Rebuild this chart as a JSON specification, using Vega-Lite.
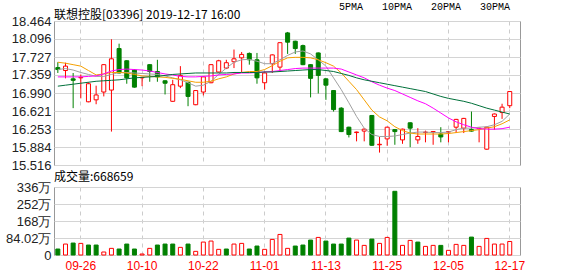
{
"$schema": "https://vega.github.io/schema/vega-lite/v6.json",
"background": "white",
"padding": {"left": 4, "top": 2, "right": 5, "bottom": 2},
"title": {"text": "联想控股[03396] 2019-12-17 16:00", "anchor": "start", "frame": "group", "fontSize": 12, "fontWeight": "normal", "font": "Noto Sans CJK SC", "color": "#000", "offset": -20},
"config": {
  "view": {"stroke": "#999", "strokeWidth": 1},
  "axis": {"labelFont": "Liberation Sans", "labelFontSize": 13, "labelColor": "#222", "ticks": false, "domain": false, "title": null, "labelOverlap": false},
  "legend": {"labelFont": "Liberation Mono", "labelFontSize": 10, "labelColor": "#000"}
},
"data": {"values": [
{"d":"09-23","o":17.51,"h":17.62,"l":17.40,"c":17.47,"v":295000,"ma5":17.47,"ma10":17.62,"ma20":17.32,"ma30":17.13},
{"d":"09-24","o":17.45,"h":17.61,"l":17.29,"c":17.54,"v":541000,"ma5":17.49,"ma10":17.60,"ma20":17.32,"ma30":17.15},
{"d":"09-25","o":17.28,"h":17.40,"l":16.68,"c":17.25,"v":590000,"ma5":17.46,"ma10":17.57,"ma20":17.32,"ma30":17.17},
{"d":"09-26","o":17.30,"h":17.37,"l":16.88,"c":17.31,"v":574000,"ma5":17.41,"ma10":17.54,"ma20":17.32,"ma30":17.19},
{"d":"09-27","o":16.81,"h":17.21,"l":16.80,"c":17.18,"v":492000,"ma5":17.37,"ma10":17.45,"ma20":17.33,"ma30":17.21},
{"d":"09-30","o":16.85,"h":17.14,"l":16.76,"c":16.95,"v":492000,"ma5":17.33,"ma10":17.36,"ma20":17.34,"ma30":17.23},
{"d":"10-02","o":17.01,"h":17.58,"l":16.92,"c":17.57,"v":148000,"ma5":17.33,"ma10":17.38,"ma20":17.38,"ma30":17.24},
{"d":"10-03","o":17.05,"h":18.09,"l":16.20,"c":17.69,"v":328000,"ma5":17.37,"ma10":17.41,"ma20":17.44,"ma30":17.25},
{"d":"10-04","o":17.90,"h":18.00,"l":17.39,"c":17.40,"v":295000,"ma5":17.41,"ma10":17.41,"ma20":17.47,"ma30":17.26},
{"d":"10-08","o":17.65,"h":17.66,"l":17.18,"c":17.30,"v":541000,"ma5":17.41,"ma10":17.40,"ma20":17.48,"ma30":17.28},
{"d":"10-09","o":17.46,"h":17.47,"l":17.10,"c":17.11,"v":295000,"ma5":17.40,"ma10":17.37,"ma20":17.47,"ma30":17.30},
{"d":"10-10","o":17.30,"h":17.32,"l":17.13,"c":17.31,"v":49000,"ma5":17.39,"ma10":17.34,"ma20":17.46,"ma30":17.31},
{"d":"10-11","o":17.57,"h":17.58,"l":17.22,"c":17.43,"v":328000,"ma5":17.38,"ma10":17.33,"ma20":17.44,"ma30":17.32},
{"d":"10-14","o":17.43,"h":17.67,"l":17.22,"c":17.32,"v":492000,"ma5":17.37,"ma10":17.32,"ma20":17.41,"ma30":17.33},
{"d":"10-15","o":17.24,"h":17.25,"l":16.96,"c":17.19,"v":541000,"ma5":17.34,"ma10":17.31,"ma20":17.38,"ma30":17.35},
{"d":"10-16","o":16.82,"h":17.26,"l":16.81,"c":17.16,"v":541000,"ma5":17.30,"ma10":17.29,"ma20":17.36,"ma30":17.37},
{"d":"10-17","o":17.13,"h":17.54,"l":17.09,"c":17.35,"v":377000,"ma5":17.26,"ma10":17.27,"ma20":17.33,"ma30":17.38},
{"d":"10-18","o":17.21,"h":17.22,"l":16.72,"c":16.92,"v":541000,"ma5":17.20,"ma10":17.24,"ma20":17.32,"ma30":17.39},
{"d":"10-21","o":16.75,"h":17.05,"l":16.74,"c":17.04,"v":180000,"ma5":17.13,"ma10":17.21,"ma20":17.32,"ma30":17.40},
{"d":"10-22","o":17.01,"h":17.33,"l":16.94,"c":17.32,"v":639000,"ma5":17.15,"ma10":17.21,"ma20":17.33,"ma30":17.40},
{"d":"10-23","o":17.20,"h":17.58,"l":17.19,"c":17.57,"v":689000,"ma5":17.23,"ma10":17.23,"ma20":17.34,"ma30":17.40},
{"d":"10-24","o":17.42,"h":17.67,"l":17.41,"c":17.65,"v":279000,"ma5":17.37,"ma10":17.28,"ma20":17.36,"ma30":17.40},
{"d":"10-25","o":17.50,"h":17.67,"l":17.48,"c":17.61,"v":295000,"ma5":17.50,"ma10":17.32,"ma20":17.37,"ma30":17.40},
{"d":"10-28","o":17.63,"h":17.88,"l":17.50,"c":17.69,"v":541000,"ma5":17.62,"ma10":17.38,"ma20":17.38,"ma30":17.41},
{"d":"10-29","o":17.71,"h":17.83,"l":17.42,"c":17.78,"v":574000,"ma5":17.67,"ma10":17.41,"ma20":17.40,"ma30":17.41},
{"d":"10-30","o":17.80,"h":17.82,"l":17.57,"c":17.67,"v":295000,"ma5":17.68,"ma10":17.43,"ma20":17.40,"ma30":17.41},
{"d":"10-31","o":17.67,"h":17.81,"l":17.18,"c":17.30,"v":443000,"ma5":17.64,"ma10":17.43,"ma20":17.41,"ma30":17.41},
{"d":"11-01","o":17.20,"h":17.43,"l":17.06,"c":17.40,"v":279000,"ma5":17.59,"ma10":17.47,"ma20":17.42,"ma30":17.42},
{"d":"11-04","o":17.59,"h":17.78,"l":17.40,"c":17.77,"v":770000,"ma5":17.59,"ma10":17.55,"ma20":17.43,"ma30":17.42},
{"d":"11-05","o":17.52,"h":18.03,"l":17.42,"c":18.02,"v":1016000,"ma5":17.67,"ma10":17.64,"ma20":17.45,"ma30":17.43},
{"d":"11-06","o":18.22,"h":18.24,"l":17.79,"c":18.03,"v":328000,"ma5":17.76,"ma10":17.71,"ma20":17.47,"ma30":17.44},
{"d":"11-07","o":18.05,"h":18.06,"l":17.79,"c":17.90,"v":443000,"ma5":17.83,"ma10":17.72,"ma20":17.49,"ma30":17.45},
{"d":"11-08","o":17.96,"h":17.98,"l":17.56,"c":17.57,"v":492000,"ma5":17.85,"ma10":17.72,"ma20":17.50,"ma30":17.46},
{"d":"11-11","o":17.57,"h":17.58,"l":16.90,"c":17.29,"v":738000,"ma5":17.79,"ma10":17.71,"ma20":17.50,"ma30":17.47},
{"d":"11-12","o":17.81,"h":17.82,"l":16.98,"c":17.35,"v":869000,"ma5":17.67,"ma10":17.67,"ma20":17.50,"ma30":17.47},
{"d":"11-13","o":17.28,"h":17.29,"l":16.85,"c":17.15,"v":689000,"ma5":17.54,"ma10":17.61,"ma20":17.50,"ma30":17.45},
{"d":"11-14","o":17.04,"h":17.05,"l":16.61,"c":16.65,"v":541000,"ma5":17.30,"ma10":17.54,"ma20":17.50,"ma30":17.43},
{"d":"11-15","o":16.68,"h":16.70,"l":16.19,"c":16.20,"v":541000,"ma5":17.06,"ma10":17.40,"ma20":17.48,"ma30":17.39},
{"d":"11-18","o":16.29,"h":16.30,"l":16.08,"c":16.14,"v":836000,"ma5":16.79,"ma10":17.23,"ma20":17.42,"ma30":17.35},
{"d":"11-19","o":16.18,"h":16.20,"l":16.00,"c":16.19,"v":738000,"ma5":16.51,"ma10":17.06,"ma20":17.36,"ma30":17.30},
{"d":"11-20","o":16.21,"h":16.27,"l":16.00,"c":16.25,"v":475000,"ma5":16.27,"ma10":16.85,"ma20":17.30,"ma30":17.26},
{"d":"11-21","o":16.53,"h":16.54,"l":15.91,"c":15.92,"v":787000,"ma5":16.14,"ma10":16.64,"ma20":17.22,"ma30":17.23},
{"d":"11-22","o":15.93,"h":16.09,"l":15.77,"c":15.94,"v":574000,"ma5":16.10,"ma10":16.50,"ma20":17.15,"ma30":17.20},
{"d":"11-25","o":16.05,"h":16.30,"l":15.91,"c":16.29,"v":869000,"ma5":16.10,"ma10":16.42,"ma20":17.09,"ma30":17.17},
{"d":"11-26","o":16.24,"h":16.25,"l":15.93,"c":16.20,"v":3148000,"ma5":16.11,"ma10":16.30,"ma20":17.04,"ma30":17.14},
{"d":"11-27","o":16.03,"h":16.26,"l":15.95,"c":16.25,"v":475000,"ma5":16.14,"ma10":16.22,"ma20":16.97,"ma30":17.11},
{"d":"11-28","o":16.38,"h":16.39,"l":15.88,"c":16.27,"v":721000,"ma5":16.17,"ma10":16.17,"ma20":16.90,"ma30":17.08},
{"d":"11-29","o":16.03,"h":16.27,"l":15.95,"c":16.10,"v":639000,"ma5":16.19,"ma10":16.15,"ma20":16.83,"ma30":17.05},
{"d":"12-02","o":16.18,"h":16.22,"l":15.98,"c":16.19,"v":426000,"ma5":16.19,"ma10":16.15,"ma20":16.77,"ma30":17.02},
{"d":"12-03","o":16.19,"h":16.21,"l":15.93,"c":16.20,"v":475000,"ma5":16.18,"ma10":16.15,"ma20":16.68,"ma30":16.97},
{"d":"12-04","o":16.15,"h":16.29,"l":15.98,"c":16.09,"v":475000,"ma5":16.18,"ma10":16.15,"ma20":16.58,"ma30":16.92},
{"d":"12-05","o":16.19,"h":16.21,"l":15.98,"c":16.20,"v":230000,"ma5":16.19,"ma10":16.16,"ma20":16.48,"ma30":16.88},
{"d":"12-06","o":16.29,"h":16.46,"l":16.17,"c":16.45,"v":525000,"ma5":16.24,"ma10":16.18,"ma20":16.40,"ma30":16.85},
{"d":"12-09","o":16.27,"h":16.48,"l":16.17,"c":16.47,"v":475000,"ma5":16.27,"ma10":16.20,"ma20":16.34,"ma30":16.82},
{"d":"12-10","o":16.24,"h":16.61,"l":16.20,"c":16.21,"v":885000,"ma5":16.27,"ma10":16.22,"ma20":16.29,"ma30":16.78},
{"d":"12-11","o":16.26,"h":16.28,"l":15.98,"c":16.27,"v":426000,"ma5":16.29,"ma10":16.24,"ma20":16.26,"ma30":16.73},
{"d":"12-12","o":15.84,"h":16.30,"l":15.83,"c":16.29,"v":820000,"ma5":16.30,"ma10":16.27,"ma20":16.25,"ma30":16.68},
{"d":"12-13","o":16.51,"h":16.57,"l":16.24,"c":16.56,"v":541000,"ma5":16.34,"ma10":16.30,"ma20":16.25,"ma30":16.64},
{"d":"12-16","o":16.59,"h":16.77,"l":16.46,"c":16.70,"v":541000,"ma5":16.41,"ma10":16.36,"ma20":16.26,"ma30":16.60},
{"d":"12-17","o":16.73,"h":17.03,"l":16.68,"c":17.02,"v":668659,"ma5":16.56,"ma10":16.44,"ma20":16.29,"ma30":16.56}
]},
"transform": [{"window": [{"op": "lag", "field": "c", "as": "prev"}], "sort": [{"field": "d"}]}],
"spacing": -3,
"vconcat": [
{
  "width": 466, "height": 144,
  "encoding": {
    "x": {"field": "d", "type": "ordinal", "title": null,
      "scale": {"paddingInner": 0, "paddingOuter": 0.42, "align": 0},
      "axis": {"labels": false, "ticks": false, "domain": false, "labelPadding": 0, "minExtent": 0, "maxExtent": 0, "grid": true, "gridDash": [4, 4], "gridColor": "#cccccc", "bandPosition": 0.5,
        "values": ["09-26","10-10","10-22","11-01","11-13","11-25","12-05","12-17"]}}
  },
  "layer": [
    {"mark": {"type": "rule", "strokeWidth": 1},
     "encoding": {
       "y": {"field": "l", "type": "quantitative", "title": null,
         "scale": {"domain": [15.516, 18.464], "zero": false, "nice": false},
         "axis": {"values": [15.516, 15.884, 16.253, 16.621, 16.990, 17.359, 17.727, 18.096, 18.464], "tickCount": 20, "format": ".3f", "grid": true, "gridColor": "#d4d4d4", "labelPadding": 3, "labelOverlap": false, "minExtent": 49, "maxExtent": 49}},
       "y2": {"field": "h"},
       "color": {"condition": {"test": "datum.c >= datum.o", "value": "#ff0000"}, "value": "#008000"}
     }},
    {"mark": {"type": "bar", "width": 4, "strokeWidth": 1},
     "encoding": {
       "y": {"field": "o", "type": "quantitative", "title": null},
       "y2": {"field": "c"},
       "fill": {"condition": {"test": "datum.c >= datum.o", "value": "#ffffff"}, "value": "#008000"},
       "stroke": {"condition": {"test": "datum.c >= datum.o", "value": "#ff0000"}, "value": "#008000"}
     }},
    {"transform": [{"fold": ["ma5", "ma10", "ma20", "ma30"], "as": ["ma", "val"]}],
     "mark": {"type": "line", "strokeWidth": 1},
     "encoding": {
       "y": {"field": "val", "type": "quantitative", "title": null},
       "color": {"field": "ma", "type": "nominal",
         "scale": {"domain": ["ma5", "ma10", "ma20", "ma30"], "range": ["#a0a0a0", "#f5a000", "#ff00ff", "#00703a"]},
         "legend": {"title": null, "orient": "none", "legendX": 307, "legendY": -19, "direction": "horizontal", "symbolType": "square", "symbolSize": 25, "symbolStrokeWidth": 0, "columnPadding": 12,
           "labelAlign": "right", "labelOffset": -8,
           "labelExpr": "replace(datum.label, 'ma', '') + 'PMA'"}}
     }}
  ]
},
{
  "title": {"text": "成交量:668659", "anchor": "start", "frame": "group", "fontSize": 12, "fontWeight": "normal", "font": "Noto Sans CJK SC", "color": "#000", "offset": -3},
  "width": 466, "height": 68,
  "mark": {"type": "bar", "width": 4, "strokeWidth": 1},
  "encoding": {
    "x": {"field": "d", "type": "ordinal", "title": null,
      "scale": {"paddingInner": 0, "paddingOuter": 0.42, "align": 0},
      "axis": {"labels": true, "labelAngle": 0, "labelColor": "#ff0000", "labelFontSize": 12, "labelPadding": 5, "ticks": false, "domain": false, "grid": true, "gridDash": [4, 4], "gridColor": "#cccccc", "bandPosition": 0.5,
        "values": ["09-26","10-10","10-22","11-01","11-13","11-25","12-05","12-17"]}},
    "y": {"field": "v", "type": "quantitative", "title": null,
      "scale": {"domain": [0, 3360800], "nice": false},
      "axis": {"values": [0, 840200, 1680400, 2520600, 3360800], "tickCount": 20, "grid": true, "gridColor": "#d4d4d4", "labelPadding": 3, "labelOverlap": false, "minExtent": 49, "maxExtent": 49,
        "labelExpr": "datum.value == 0 ? '0' : (datum.value < 1000000 ? format(datum.value / 10000, '.2f') : format(datum.value / 10000, 'd')) + '万'"}},
    "fill": {"condition": {"test": "datum.prev != null && datum.c >= datum.prev", "value": "#ffffff"}, "value": "#008000"},
    "stroke": {"condition": {"test": "datum.prev != null && datum.c >= datum.prev", "value": "#ff0000"}, "value": "#008000"}
  }
}
]
}
